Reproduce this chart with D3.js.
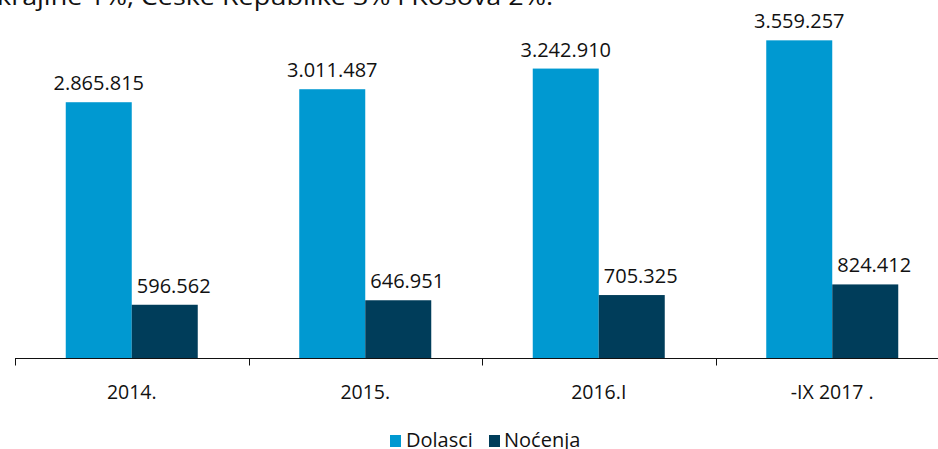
<!DOCTYPE html>
<html><head><meta charset="utf-8">
<script src="https://cdn.jsdelivr.net/npm/d3@7"></script>
<style>body{margin:0;background:#fff}svg{display:block}</style>
</head><body>
<svg id="c" width="938" height="449"></svg>
<script>
const categories = ["2014.", "2015.", "2016.I", "-IX 2017 ."];
const seriesNames = ["Dolasci", "Noćenja"];
const dolasci = [2865815, 3011487, 3242910, 3559257];
const nocenja = [596562, 646951, 705325, 824412];
const valueLabels = [["2.865.815","3.011.487","3.242.910","3.559.257"],["596.562","646.951","705.325","824.412"]];
const colors = ["#0099d1", "#003d5a"];
const topText = "krajine 1%, Češke Republike 3% i Kosova 2%.";

const svg = d3.select("#c");
const font = "'Open Sans', sans-serif";
const x0 = d3.scaleBand().domain(categories).range([15, 949]).paddingInner(0).paddingOuter(0);
const bw = x0.bandwidth();
const barW = 66;
const pOut = (bw / barW - 2) / 2;
const x1 = d3.scaleBand().domain(seriesNames).range([0, bw]).paddingInner(0).paddingOuter(pOut);
const y = d3.scaleLinear().domain([0, 4000000]).range([358, 1]);
const data = [dolasci, nocenja];
const labelShift = [0, 9];

// top cropped text
svg.append("text").attr("x", -3).attr("y", 5).attr("font-family", font).attr("font-size", 24)
  .attr("fill", "#111").attr("textLength", 556).attr("lengthAdjust", "spacingAndGlyphs").text(topText);

categories.forEach((c, i) => {
  seriesNames.forEach((s, j) => {
    const v = data[j][i];
    svg.append("rect").attr("x", x0(c) + x1(s)).attr("y", y(v))
      .attr("width", x1.bandwidth()).attr("height", y(0) - y(v)).attr("fill", colors[j]);
    svg.append("text").attr("x", x0(c) + x1(s) + x1.bandwidth() / 2 + labelShift[j]).attr("y", y(v) - 12)
      .attr("text-anchor", "middle").attr("font-family", font).attr("font-size", 20)
      .attr("fill", "#111").text(valueLabels[j][i]);
  });
});

// axis
const ax = svg.append("g").attr("transform", "translate(0,358.5)");
ax.append("line").attr("x1", 15).attr("x2", 949).attr("stroke", "#111").attr("stroke-width", 1.2);
categories.forEach(c => {
  ax.append("line").attr("x1", Math.round(x0(c)) + 0.5).attr("x2", Math.round(x0(c)) + 0.5)
    .attr("y1", 0).attr("y2", 7).attr("stroke", "#111").attr("stroke-width", 1);
  ax.append("text").attr("x", x0(c) + bw / 2).attr("y", 40).attr("text-anchor", "middle")
    .attr("font-family", font).attr("font-size", 19.5).attr("fill", "#111").text(c);
});

// legend
const leg = [{x: 390, tx: 406}, {x: 489, tx: 504}];
seriesNames.forEach((s, j) => {
  svg.append("rect").attr("x", leg[j].x).attr("y", 435).attr("width", 11).attr("height", 12).attr("fill", colors[j]);
  svg.append("text").attr("x", leg[j].tx).attr("y", 447).attr("font-family", font).attr("font-size", 20)
    .attr("fill", "#111").text(s);
});
</script>
</body></html>
